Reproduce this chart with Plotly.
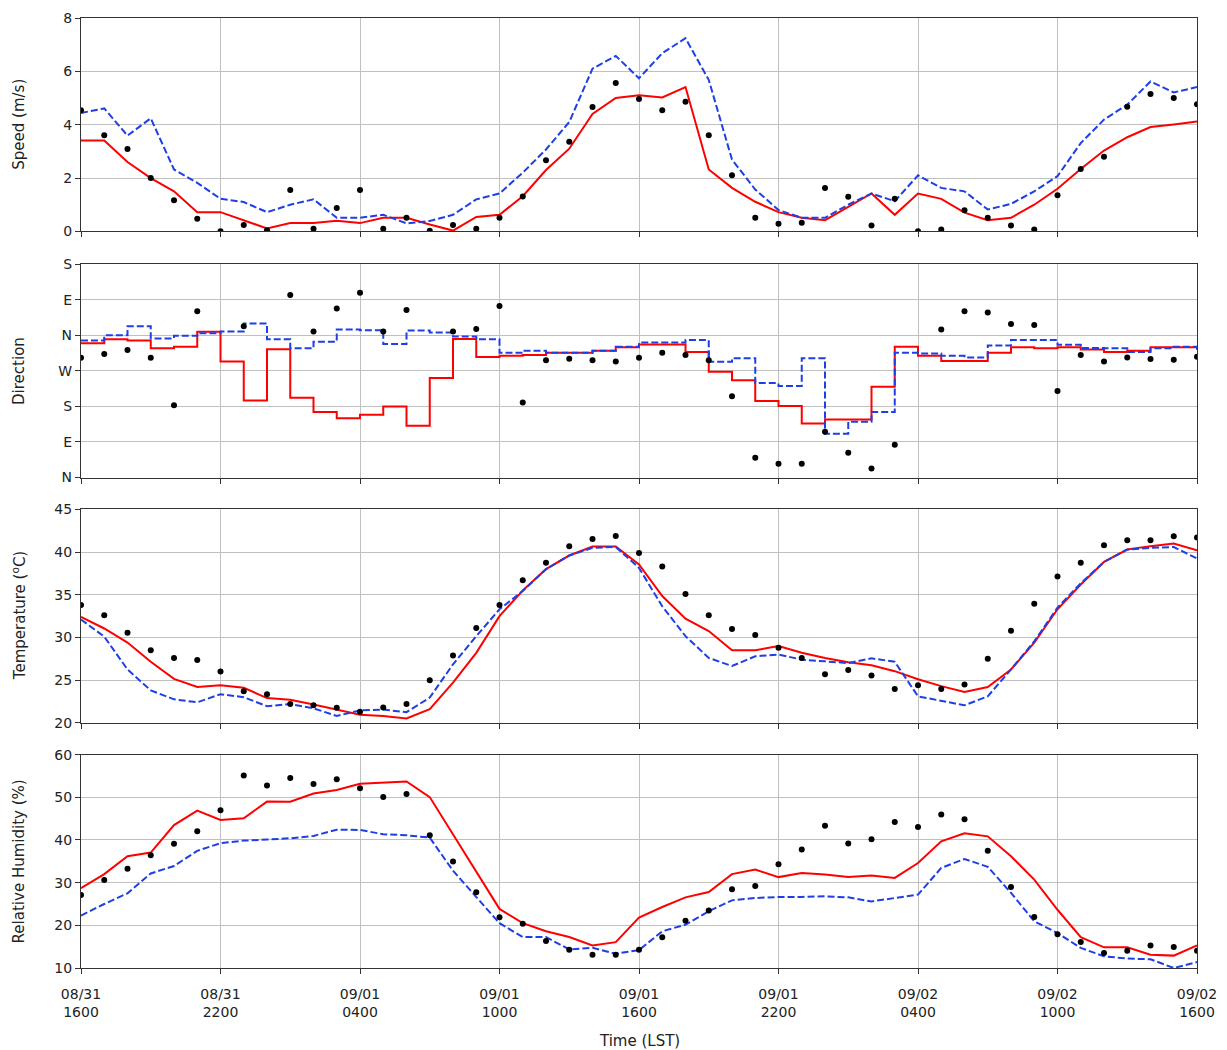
import plotly.graph_objects as go
from plotly.subplots import make_subplots

# Hourly time axis: hours since 08/31 1600 LST
hours = list(range(49))
tick_hours = [0, 6, 12, 18, 24, 30, 36, 42, 48]
tick_text = ["08/31<br>1600", "08/31<br>2200", "09/01<br>0400", "09/01<br>1000",
             "09/01<br>1600", "09/01<br>2200", "09/02<br>0400", "09/02<br>1000",
             "09/02<br>1600"]

# Wind speed (m/s)
speed_obs = [4.54, 3.6, 3.09, 2.0, 1.17, 0.47, 0.0, 0.24, 0.04, 1.55, 0.1, 0.88, 1.55,
             0.1, 0.51, 0.02, 0.24, 0.1, 0.51, 1.31, 2.67, 3.36, 4.66, 5.56, 4.96,
             4.54, 4.86, 3.6, 2.1, 0.51, 0.29, 0.32, 1.63, 1.3, 0.22, 1.22, 0.0,
             0.07, 0.79, 0.51, 0.22, 0.07, 1.35, 2.34, 2.8, 4.67, 5.15, 5.0, 4.77]
speed_red = [3.41, 3.41, 2.6, 2.0, 1.5, 0.72, 0.72, 0.42, 0.11, 0.31, 0.31, 0.4, 0.31,
             0.51, 0.51, 0.26, 0.03, 0.54, 0.62, 1.32, 2.3, 3.1, 4.4, 5.0, 5.1,
             5.02, 5.41, 2.32, 1.63, 1.11, 0.72, 0.51, 0.42, 0.92, 1.42, 0.62, 1.42,
             1.22, 0.7, 0.42, 0.51, 1.0, 1.6, 2.34, 3.03, 3.53, 3.91, 4.01, 4.12]
speed_blue = [4.44, 4.61, 3.59, 4.24, 2.32, 1.82, 1.22, 1.1, 0.72, 1.0, 1.2, 0.51, 0.51,
              0.62, 0.3, 0.39, 0.62, 1.2, 1.42, 2.2, 3.07, 4.1, 6.1, 6.58, 5.74,
              6.68, 7.24, 5.68, 2.69, 1.57, 0.8, 0.51, 0.51, 1.0, 1.42, 1.13, 2.1,
              1.63, 1.5, 0.82, 1.03, 1.5, 2.07, 3.31, 4.19, 4.75, 5.62, 5.21, 5.41]

# Wind direction (degrees, unwrapped; None where calm)
dir_obs = [303, 313, 323, 303, 183, 421, None, 383, None, 462, 370, 428, 468,
           370, 424, None, 370, 376, 434, 190, 297, 301, 297, 294, 303,
           316, 310, 297, 206, 50, 35, 35, 116, 63, 23, 83, None,
           375, 421, 418, 389, 386, 219, 310, 294, 304, 300, 298, 306]
dir_red = [340, 350, 347, 327, 331, 369, 294, 195, 325, 202, 166, 150, 159,
           180, 131, 252, 351, 305, 308, 310, 316, 316, 321, 330, 337,
           337, 318, 268, 246, 194, 181, 137, 147, 147, 230, 331, 308,
           295, 295, 316, 330, 327, 330, 324, 318, 321, 330, 330, 330]
dir_blue = [347, 360, 383, 352, 359, 365, 370, 390, 350, 327, 344, 375, 373,
            338, 372, 367, 357, 350, 316, 321, 316, 316, 321, 331, 342,
            342, 348, 293, 302, 239, 232, 302, 111, 141, 166, 316, 314,
            308, 304, 334, 348, 348, 336, 328, 327, 318, 327, 331, 321]
dir_ticks = [0, 90, 180, 270, 360, 450, 540]
dir_labels = ["N", "E", "S", "W", "N", "E", "S"]

# Air temperature (deg C)
temp_obs = [33.8, 32.6, 30.55, 28.5, 27.6, 27.35, 26.0, 23.7, 23.35, 22.2, 22.05, 21.75,
            21.3, 21.8, 22.2, 25.0, 27.9, 31.1, 33.8, 36.7, 38.75, 40.7, 41.55, 41.9,
            39.9, 38.3, 35.1, 32.6, 31.0, 30.3, 28.8, 27.6, 25.7, 26.2, 25.55, 23.95,
            24.4, 23.95, 24.5, 27.5, 30.8, 33.95, 37.15, 38.75, 40.8, 41.4, 41.4, 41.85,
            41.7]
temp_red = [32.4, 31.05, 29.4, 27.15, 25.15, 24.2, 24.4, 24.1, 22.9, 22.7, 22.15, 21.55,
            20.95, 20.8, 20.5, 21.6, 24.7, 28.2, 32.5, 35.5, 38.0, 39.6, 40.65, 40.65,
            38.55, 34.85, 32.2, 30.75, 28.5, 28.5, 29.0, 28.2, 27.6, 27.1, 26.75, 26.05,
            25.1, 24.3, 23.6, 24.2, 26.25, 29.4, 33.3, 36.2, 38.85, 40.3, 40.7, 41.0,
            40.2]
temp_blue = [32.1, 30.1, 26.25, 23.8, 22.75, 22.4, 23.35, 23.0, 21.95, 22.2, 21.7, 20.8,
             21.45, 21.55, 21.25, 22.95, 26.85, 30.15, 33.3, 35.45, 38.0, 39.6, 40.5, 40.6,
             38.15, 33.65, 30.15, 27.6, 26.65, 27.8, 28.0, 27.4, 27.2, 27.0, 27.55, 27.15,
             23.1, 22.55, 22.05, 23.1, 26.25, 29.55, 33.5, 36.35, 38.85, 40.3, 40.5, 40.6,
             39.25]

# Relative humidity (%)
rh_obs = [27.1, 30.6, 33.25, 36.45, 39.1, 42.05, 46.95, 55.1, 52.75, 54.55, 53.1, 54.25,
          52.15, 50.1, 50.8, 41.1, 34.95, 27.75, 21.9, 20.35, 16.3, 14.3, 13.1, 13.1,
          14.3, 17.2, 21.1, 23.45, 28.45, 29.2, 34.3, 37.75, 43.35, 39.2, 40.15, 44.2,
          43.05, 45.95, 44.85, 37.5, 29.0, 21.95, 17.9, 16.1, 13.5, 14.05, 15.25, 14.9,
          14.05]
rh_red = [28.7, 32.0, 36.2, 37.05, 43.5, 46.9, 44.7, 45.1, 49.0, 48.95, 50.9, 51.7,
          53.15, 53.4, 53.7, 50.05, 41.35, 32.8, 23.85, 20.5, 18.6, 17.25, 15.3, 16.05,
          21.8, 24.3, 26.55, 27.8, 32.0, 33.05, 31.3, 32.25, 31.9, 31.3, 31.65, 31.1,
          34.6, 39.7, 41.55, 40.85, 36.2, 30.7, 23.65, 17.25, 14.85, 14.85, 13.1, 12.9,
          15.3]
rh_blue = [22.3, 25.0, 27.5, 32.15, 33.9, 37.45, 39.25, 39.85, 40.1, 40.4, 40.95, 42.4,
           42.35, 41.35, 41.1, 40.55, 32.8, 26.55, 20.5, 17.25, 17.25, 14.35, 14.75, 13.35,
           14.2, 18.6, 20.15, 23.3, 25.85, 26.4, 26.65, 26.65, 26.8, 26.55, 25.6, 26.4,
           27.2, 33.45, 35.55, 33.7, 27.6, 20.95, 18.2, 14.7, 12.75, 12.2, 12.05, 10.0,
           11.4]

RED = "#ff0000"
BLUE = "#1f3fe6"
FONT = "DejaVu Sans"

fig = make_subplots(rows=4, cols=1, shared_xaxes=False, vertical_spacing=0.0)

panels = [
    (1, speed_obs, speed_red, speed_blue, "linear"),
    (2, dir_obs, dir_red, dir_blue, "hv"),
    (3, temp_obs, temp_red, temp_blue, "linear"),
    (4, rh_obs, rh_red, rh_blue, "linear"),
]
for row, obs, red, blue, shape in panels:
    fig.add_trace(go.Scatter(x=hours, y=red, mode="lines", line_shape=shape,
                             line=dict(color=RED, width=2), showlegend=False), row=row, col=1)
    fig.add_trace(go.Scatter(x=hours, y=blue, mode="lines", line_shape=shape,
                             line=dict(color=BLUE, width=2, dash="7px,3px"),
                             showlegend=False), row=row, col=1)
    fig.add_trace(go.Scatter(x=hours, y=obs, mode="markers",
                             marker=dict(color="black", size=6), showlegend=False),
                  row=row, col=1)

# Panel placement (paper fractions)
domains = [[0.7754, 1.0], [0.5163, 0.7408], [0.2581, 0.4827], [0.0, 0.2246]]
yranges = [[0, 8], [0, 540], [20, 45], [10, 60]]
titles = ["Speed (m/s)", "Direction", "Temperature (<sup>o</sup>C)", "Relative Humidity (%)"]

axis_common = dict(showline=True, linecolor="#333333", linewidth=1.2, mirror=True,
                   showgrid=True, gridcolor="#c0c0c0", gridwidth=1,
                   ticks="outside", ticklen=5, tickcolor="#333333",
                   tickfont=dict(family=FONT, size=14, color="#222222"), zeroline=False)

for i in range(4):
    n = "" if i == 0 else str(i + 1)
    fig.layout["xaxis" + n].update(range=[0, 48], tickvals=tick_hours,
                                   ticktext=tick_text, showticklabels=(i == 3),
                                   ticklabelstandoff=8, **axis_common)
    yax = dict(range=yranges[i], domain=domains[i], **axis_common)
    if i == 0:
        yax.update(tickvals=[0, 2, 4, 6, 8])
    elif i == 1:
        yax.update(tickvals=dir_ticks, ticktext=dir_labels)
    elif i == 2:
        yax.update(tickvals=[20, 25, 30, 35, 40, 45])
    else:
        yax.update(tickvals=[10, 20, 30, 40, 50, 60])
    fig.layout["yaxis" + n].update(**yax)
    fig.add_annotation(text=titles[i], xref="paper", yref="paper",
                       x=-0.0555, y=(domains[i][0] + domains[i][1]) / 2,
                       xanchor="center", yanchor="middle", textangle=-90,
                       showarrow=False, font=dict(family=FONT, size=15, color="#222222"))

fig.add_annotation(text="Time (LST)", xref="paper", yref="paper", x=0.5, y=-0.077,
                   xanchor="center", yanchor="middle", showarrow=False,
                   font=dict(family=FONT, size=15, color="#222222"))

fig.update_layout(width=1227, height=1050, plot_bgcolor="white", paper_bgcolor="white",
                  margin=dict(l=81, r=29, t=10, b=82), font=dict(family=FONT))

fig.write_html("out.html")
